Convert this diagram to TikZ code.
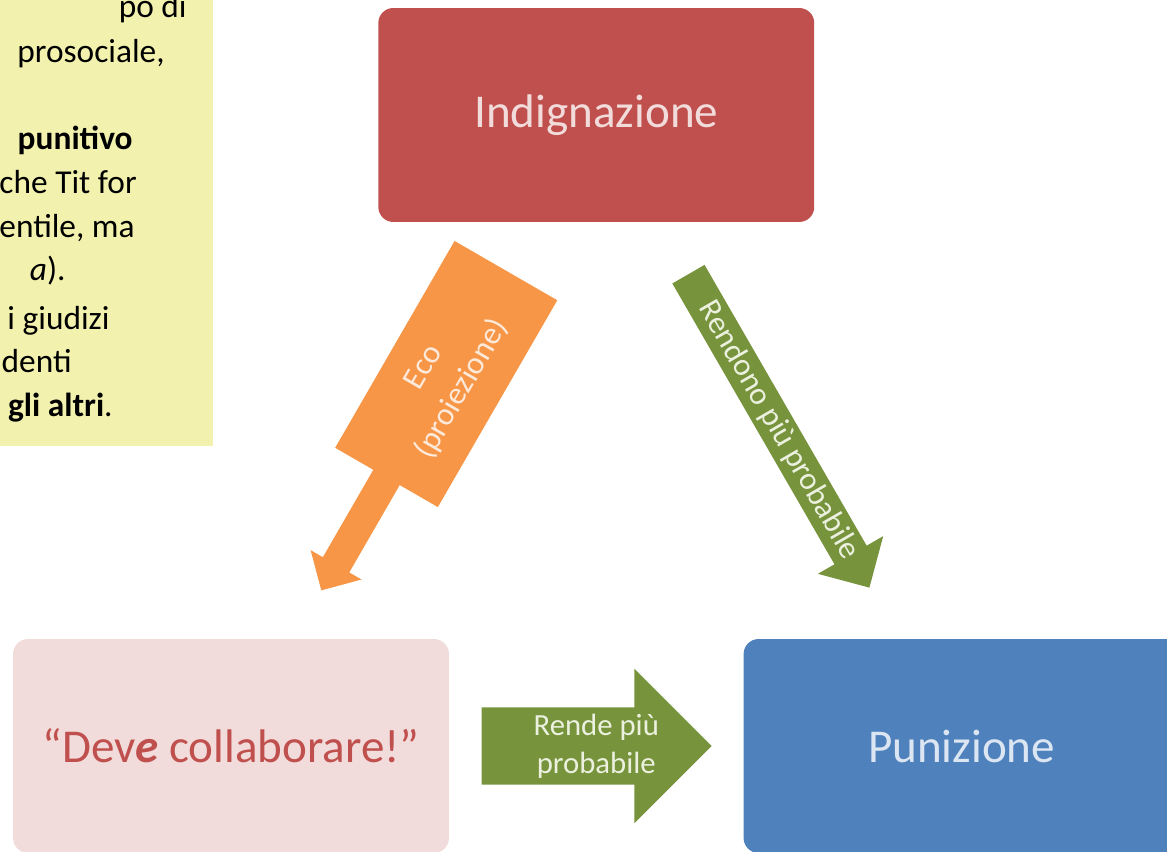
\documentclass[tikz,border=0pt]{standalone}
\usepackage{fontspec}
\setmainfont{Carlito}
\usetikzlibrary{calc,positioning,shapes.arrows}

\definecolor{indigred}{HTML}{C0504D}
\definecolor{palepink}{HTML}{F2DCDB}
\definecolor{punblue}{HTML}{4F81BD}
\definecolor{paleblue}{HTML}{DCE6F2}
\definecolor{ecoorange}{HTML}{F79646}
\definecolor{paleorange}{HTML}{FDE9D9}
\definecolor{rendgreen}{HTML}{77933C}
\definecolor{palegreen}{HTML}{EBF1DE}
\definecolor{noteyellow}{HTML}{F2F2AE}

\begin{document}
\begin{tikzpicture}[x=0.02cm,y=0.02cm,
    box/.style={rectangle,rounded corners=0.3cm,minimum width=8.72cm,minimum height=4.28cm,inner sep=0pt,font=\fontsize{26.8}{32}\selectfont},
    fatarrow/.style={single arrow,single arrow tip angle=90,inner xsep=0pt,fill=rendgreen,anchor=tail},
    arrowtext/.style={inner sep=0pt,text=palegreen,align=center},
    note/.style={anchor=base east,inner sep=0pt,font=\fontsize{19}{23}\selectfont}]
  \useasboundingbox (0,0) rectangle (1167,852);
  \clip (0,0) rectangle (1167,852);
  % note box, cut at the left
  \fill[noteyellow] (-10,406) rectangle (213,862);
  \node[note] (n1) at (187,834) {po di};
  \node[note] (n2) at (165,789) {prosociale,};
  \node[note] (n3) at (133,702) {\textbf{punitivo}};
  \node[note] (n4) at (137,658) {che Tit for};
  \node[note] (n5) at (135,614) {entile, ma};
  \node[note] (n6) at (66,571) {\textit{a}).};
  \node[note] (n7) at (110,522) {i giudizi};
  \node[note] (n8) at (72,479) {denti};
  \node[note] (n9) at (113,435) {\textbf{gli altri}.};
  % boxes
  \node[box,fill=palepink,text=indigred] (deve) at (231,106) {“Dev\textbf{\textit{e}} collaborare!”};
  \node[box,fill=punblue,text=paleblue,right=5.88cm of deve] (puniz) {Punizione};
  \node[box,fill=indigred,text=palepink] (indig) at ($(deve)!0.5!(puniz)+(0,631)$) {Indignazione};
  % green arrows
  \coordinate (rendmid) at ($(indig)!0.5!(puniz)$);
  \node[fatarrow,rotate=-60,minimum height=7.24cm,inner ysep=0.365cm,single arrow head extend=0.382cm] (rendono) at ($(rendmid)!3.62cm!(indig)$) {};
  \node[arrowtext,rotate=-60,font=\fontsize{18}{22}\selectfont] (rendonotext) at (rendmid) {Rendono più probabile};
  \coordinate (rendemid) at ($(deve)!0.5!(puniz)$);
  \node[fatarrow,minimum height=4.6cm,inner ysep=0.767cm,single arrow head extend=0.773cm] (rende) at ($(rendemid)!2.3cm!(deve)$) {};
  \node[arrowtext,font=\fontsize{17.5}{21.5}\selectfont] (rendetext) at (rendemid) {Rende più\\probabile};
  % orange callout
  \path (deve) -- coordinate (ecomid) (indig);
  \begin{scope}[shift={(ecomid)},rotate=60]
    \fill[ecoorange] (184.6,59.3) -- (-54.2,59.3) -- (-54.2,15.25) -- (-155.1,15.25) -- (-155.1,29.4) -- (-184.6,0)
      -- (-155.1,-29.4) -- (-155.1,-15.25) -- (-54.2,-15.25) -- (-54.2,-59.3) -- (184.6,-59.3) -- cycle;
    \node[rotate=60,align=center,inner sep=0pt,text=paleorange,font=\fontsize{18.2}{25}\selectfont] (eco) at (60,0) {Eco\\(proiezione)};
  \end{scope}
\end{tikzpicture}
\end{document}
